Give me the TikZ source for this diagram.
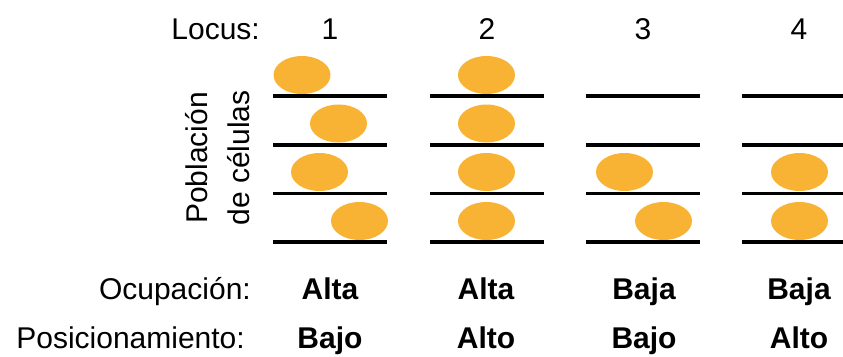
\documentclass[tikz,border=0pt]{standalone}
\usepackage{fontspec}
\setmainfont{Liberation Sans}
\definecolor{cellorange}{HTML}{F8B334}
\begin{document}
\begin{tikzpicture}[x=1pt,y=-1pt,
  lbl/.style={font=\fontsize{30}{36}\selectfont, inner sep=0pt, anchor=base},
  rowlbl/.style={lbl, anchor=base east},
  val/.style={lbl, font=\fontsize{30}{36}\selectfont\bfseries},
  locusline/.style={line width=3.6pt},
  cell/.style={fill=cellorange}]
\useasboundingbox (0,0) rectangle (843,356);
\clip (0,0) rectangle (843,356);

% header row
\node[rowlbl] (locus) at (260,39) {Locus:};
\node[lbl] (n1) at (330,39) {1};
\node[lbl] (n2) at (487,39) {2};
\node[lbl] (n3) at (643,39) {3};
\node[lbl] (n4) at (799,39) {4};

% vertical axis label
\node[lbl, rotate=90] (pob) at (207,158) {Población};
\node[lbl, rotate=90] (cel) at (249,158) {de células};

% horizontal lines of each locus
\foreach \x in {273,430,586,742}
  \foreach \y in {96,144.7,193.3,242}
    \draw[locusline] (\x,\y) -- ++(114,0);

% cells bound at each locus
\foreach \cx/\cy in {302/75, 338.5/123.5, 319.5/172, 359.5/221,
                     486.5/75, 486.5/123.5, 486.5/172, 486.5/221,
                     624.5/172, 663.5/221,
                     799.5/172, 799.5/221}
  \fill[cell] (\cx,\cy) ellipse [x radius=28.5pt, y radius=19pt];

% occupancy row
\node[rowlbl] (ocup) at (251,299) {Ocupación:};
\node[val] (o1) at (330,299) {Alta};
\node[val] (o2) at (486,299) {Alta};
\node[val] (o3) at (644,299) {Baja};
\node[val] (o4) at (799,299) {Baja};

% positioning row
\node[rowlbl] (posic) at (245,348) {Posicionamiento:};
\node[val] (p1) at (330,348) {Bajo};
\node[val] (p2) at (486,348) {Alto};
\node[val] (p3) at (644,348) {Bajo};
\node[val] (p4) at (799,348) {Alto};
\end{tikzpicture}
\end{document}
